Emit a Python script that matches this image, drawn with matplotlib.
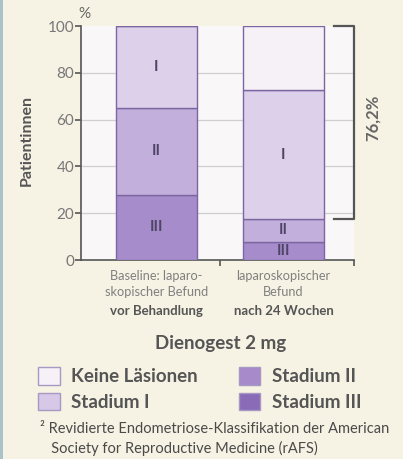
import matplotlib
matplotlib.use("Agg")
import matplotlib.pyplot as plt
from matplotlib.patches import Patch, Rectangle
import matplotlib.transforms as mtransforms
import numpy as np

plt.rcParams['font.family'] = ['Lato', 'DejaVu Sans']

# ---- data ----
bar_positions = [0, 1]
stadium_III = [27.8, 7.8]
stadium_II = [37.3, 9.7]
stadium_I = [34.9, 55.1]
keine = [0.0, 27.4]
series_names = ["Keine Läsionen", "Stadium I", "Stadium II", "Stadium III"]
segment_labels = ["III", "II", "I"]
cat_lines = ["Baseline: laparo-\nskopischer Befund", "laparoskopischer\nBefund"]
cat_bold = ["vor Behandlung", "nach 24 Wochen"]
yticks = [0, 20, 40, 60, 80, 100]
bracket_text = "76,2%"
group_title = "Dienogest 2 mg"
ylabel = "Patientinnen"
footnote = "² Revidierte Endometriose-Klassifikation der American\n   Society for Reproductive Medicine (rAFS)"

# ---- style ----
fig_bg = "#f6f2e4"
ax_bg = "#f9f7f7"
c_keine = "#f5f1f7"
c_I = "#dcd0ea"
c_II = "#c3afdb"
c_III = "#a68ccb"
edge = "#7c66a2"
leg_colors = ["#f5f1f7", "#d6c8e6", "#a68ac9", "#8a6bb8"]
txt_dark = "#555555"

W, H = 403, 459
fig = plt.figure(figsize=(W / 100, H / 100), dpi=100, facecolor=fig_bg)
fig.patches.append(Rectangle((0, 0), 3 / W, 1, transform=fig.transFigure,
                             facecolor="#a9c4c8", edgecolor="none"))

ax = fig.add_axes([81 / W, 1 - 260 / H, 273 / W, 234 / H])
ax.set_facecolor(ax_bg)
xmin, xmax = -0.594, 1.555
ax.set_xlim(xmin, xmax)
ax.set_ylim(0, 100)

width = 0.638
b = np.zeros(2)
segs = [(stadium_III, c_III), (stadium_II, c_II), (stadium_I, c_I), (keine, c_keine)]
bottoms = []
for vals, col in segs:
    ax.bar(bar_positions, vals, width=width, bottom=b, color=col,
           edgecolor=edge, linewidth=1.0, zorder=3)
    bottoms.append(b.copy())
    b = b + np.array(vals)

for (vals, _), bot, lab in zip(segs[:3], bottoms[:3], segment_labels):
    for x, v, y0 in zip(bar_positions, vals, bot):
        ax.text(x, y0 + v / 2, lab, ha="center", va="center", fontsize=11,
                fontweight="bold", color="#4e4566", zorder=4)

# grid
for y in yticks[1:-1]:
    ax.axhline(y, color="#cfcfcf", linewidth=0.9, zorder=1)

for s in ["top", "right"]:
    ax.spines[s].set_visible(False)
for s in ["left", "bottom"]:
    ax.spines[s].set_color("#555555")
    ax.spines[s].set_linewidth(1.2)

ax.set_yticks(yticks)
ax.tick_params(axis="y", colors="#555555", labelcolor="#777777",
               labelsize=11, length=4, width=1.2, pad=1)
ax.set_xticks(bar_positions)
ax.set_xticklabels(cat_lines, fontsize=9.2, color="#808080", linespacing=1.42)
ax.tick_params(axis="x", length=0, pad=7)
ax.set_xticks([0.5, xmax], minor=True)
ax.tick_params(axis="x", which="minor", length=4, width=1.2, colors="#555555")

trans = mtransforms.blended_transform_factory(ax.transData, fig.transFigure)
for x, t in zip(bar_positions, cat_bold):
    ax.text(x, 1 - 311 / H, t, transform=trans, ha="center", va="center",
            fontsize=9.5, fontweight="bold", color="#555555")

# bracket
top_II = stadium_III[1] + stadium_II[1]
bx0 = 1 + width / 2 + 0.08
ax.plot([bx0, xmax, xmax, bx0], [100, 100, top_II, top_II], color="#555555",
        linewidth=1.6, clip_on=False, zorder=5)
ax.text(373 / W, 1 - 118 / H, bracket_text, transform=fig.transFigure,
        rotation=90, ha="center", va="center", fontsize=12,
        fontweight="bold", color="#666666")

fig.text(84 / W, 1 - 14 / H, "%", ha="center", va="center", fontsize=11,
         color="#666666")
fig.text(27 / W, 1 - 140 / H, ylabel, rotation=90, ha="center", va="center",
         fontsize=11.5, fontweight="bold", color=txt_dark)

fig.text(221 / W, 1 - 343 / H, group_title, ha="center", va="center",
         fontsize=13.5, fontweight="bold", color=txt_dark)

# legend
handles = [Patch(facecolor=c, edgecolor="#a898c4", linewidth=1.0) for c in leg_colors]
leg = fig.legend(handles, series_names, ncol=2, loc="center left",
                 bbox_to_anchor=(38 / W, 1 - 389 / H), frameon=False,
                 borderpad=0, borderaxespad=0,
                 handlelength=1.15, handleheight=1.05, handletextpad=0.6,
                 columnspacing=2.2, labelspacing=0.4,
                 prop={"size": 13.5, "weight": "bold"})
for t in leg.get_texts():
    t.set_color(txt_dark)

fig.text(40 / W, 1 - 439 / H, footnote, ha="left", va="center",
         fontsize=10.5, color="#4a4a4a", linespacing=1.45)

fig.savefig("out.png", dpi=100, facecolor=fig_bg)
